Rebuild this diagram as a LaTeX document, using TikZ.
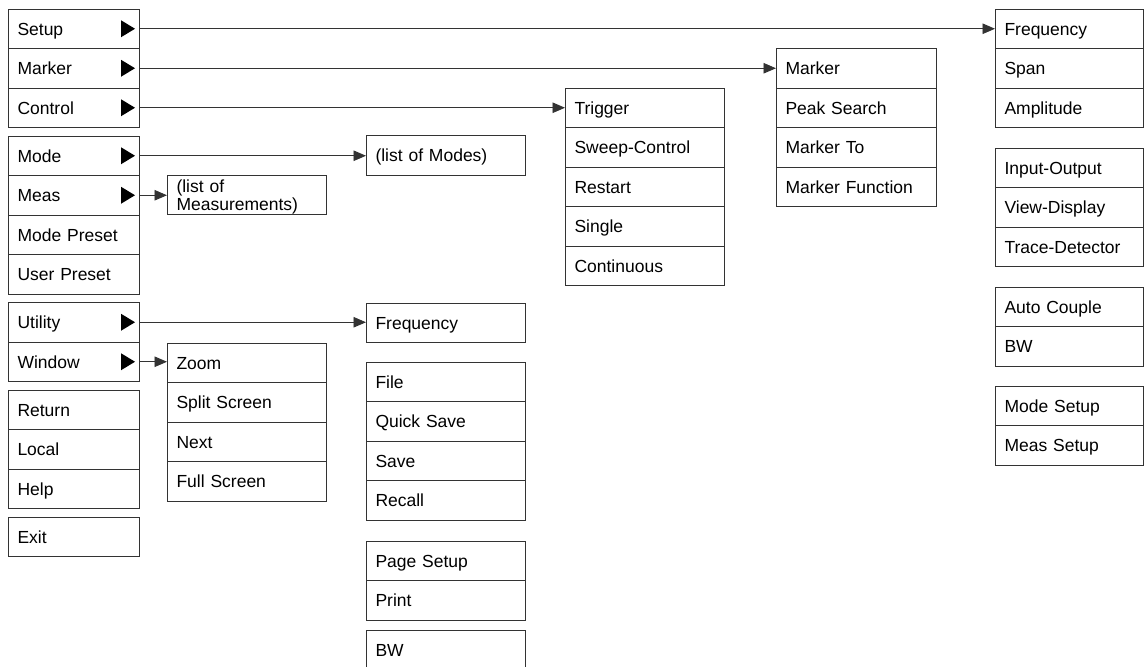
\documentclass[tikz,border=0pt]{standalone}
\usepackage{fontspec}
\setmainfont{Liberation Sans}
\usetikzlibrary{arrows.meta}
\tikzset{
  rowbox/.style={draw=black!80, line width=0.9pt, rectangle, anchor=north west,
    minimum height=39.5pt, inner xsep=9.5pt, inner ysep=0pt, outer sep=0pt,
    align=left, text height=12.6pt, text depth=0pt,
    font=\fontsize{17.5}{19.8}\selectfont},
  wL/.style={text width=112pt},
  wR/.style={text width=129.5pt},
  wM/.style={text width=140pt},
  wK/.style={text width=141pt},
  link/.style={draw=black!80, line width=0.9pt, -{Triangle[length=12.5pt,width=10.5pt]}},
  tri/.style={fill=black}
}
\newcommand\rowat[5]{\node[rowbox,#4] (#1) at (#2,#3) {#5};}
\newcommand\submark[1]{\fill[tri,shift={(#1.east)}] (-18,-8.5) -- (-4,0) -- (-18,8.5) -- cycle;}
\begin{document}
\begin{tikzpicture}[x=1pt,y=-1pt]
\useasboundingbox (0,0) rectangle (1144,667);
\clip (0,0) rectangle (1144,667);
% left column
\rowat{setup}{8}{9}{wL}{Setup}
\rowat{marker}{8}{48.5}{wL}{Marker}
\rowat{control}{8}{88}{wL}{Control}
\rowat{mode}{8}{136}{wL}{Mode}
\rowat{meas}{8}{175.5}{wL}{Meas}
\rowat{modepreset}{8}{215}{wL}{Mode Preset}
\rowat{userpreset}{8}{254.5}{wL}{User Preset}
\rowat{utility}{8}{302.5}{wL}{Utility}
\rowat{window}{8}{342}{wL}{Window}
\rowat{return}{8}{390}{wL}{Return}
\rowat{local}{8}{429.5}{wL}{Local}
\rowat{help}{8}{469}{wL}{Help}
\rowat{exit}{8}{517}{wL}{Exit}
\submark{setup}\submark{marker}\submark{control}
\submark{mode}\submark{meas}\submark{utility}\submark{window}
% right column
\rowat{freq}{995}{9}{wR}{Frequency}
\rowat{span}{995}{48.5}{wR}{Span}
\rowat{ampl}{995}{88}{wR}{Amplitude}
\rowat{inout}{995}{148}{wR}{Input-Output}
\rowat{view}{995}{187.5}{wR}{View-Display}
\rowat{trace}{995}{227}{wR}{Trace-Detector}
\rowat{autocouple}{995}{287}{wR}{Auto Couple}
\rowat{bwr}{995}{326.5}{wR}{BW}
\rowat{modesetup}{995}{386}{wR}{Mode Setup}
\rowat{meassetup}{995}{425.5}{wR}{Meas Setup}
% marker menu
\rowat{mkmarker}{776}{48.5}{wK}{Marker}
\rowat{peak}{776}{88}{wK}{Peak Search}
\rowat{markerto}{776}{127.5}{wK}{Marker To}
\rowat{markerfn}{776}{167}{wK}{Marker Function}
% control menu
\rowat{trigger}{565}{88}{wM}{Trigger}
\rowat{sweep}{565}{127.5}{wM}{Sweep-Control}
\rowat{restart}{565}{167}{wM}{Restart}
\rowat{single}{565}{206.5}{wM}{Single}
\rowat{continuous}{565}{246}{wM}{Continuous}
% modes
\rowat{modes}{366}{135.5}{wM}{(list of Modes)}
\node[rowbox,wM,text height=12.6pt,text depth=16.7pt,font=\fontsize{17.5}{17.5}\selectfont] (measlist) at (167,175) {(list of\\Measurements)};
% utility menu
\rowat{ufreq}{366}{303}{wM}{Frequency}
\rowat{file}{366}{362}{wM}{File}
\rowat{quicksave}{366}{401.5}{wM}{Quick Save}
\rowat{save}{366}{441}{wM}{Save}
\rowat{recall}{366}{480.5}{wM}{Recall}
\rowat{pagesetup}{366}{541}{wM}{Page Setup}
\rowat{print}{366}{580.5}{wM}{Print}
\rowat{bwu}{366}{630}{wM}{BW}
% window menu
\rowat{zoom}{167}{343}{wM}{Zoom}
\rowat{split}{167}{382.5}{wM}{Split Screen}
\rowat{next}{167}{422}{wM}{Next}
\rowat{full}{167}{461.5}{wM}{Full Screen}
% connectors
\draw[link] (setup.east) -- (setup.east -| freq.west);
\draw[link] (marker.east) -- (marker.east -| mkmarker.west);
\draw[link] (control.east) -- (control.east -| trigger.west);
\draw[link] (mode.east) -- (mode.east -| modes.west);
\draw[link] (meas.east) -- (meas.east -| measlist.west);
\draw[link] (utility.east) -- (utility.east -| ufreq.west);
\draw[link] (window.east) -- (window.east -| zoom.west);
\end{tikzpicture}
\end{document}
